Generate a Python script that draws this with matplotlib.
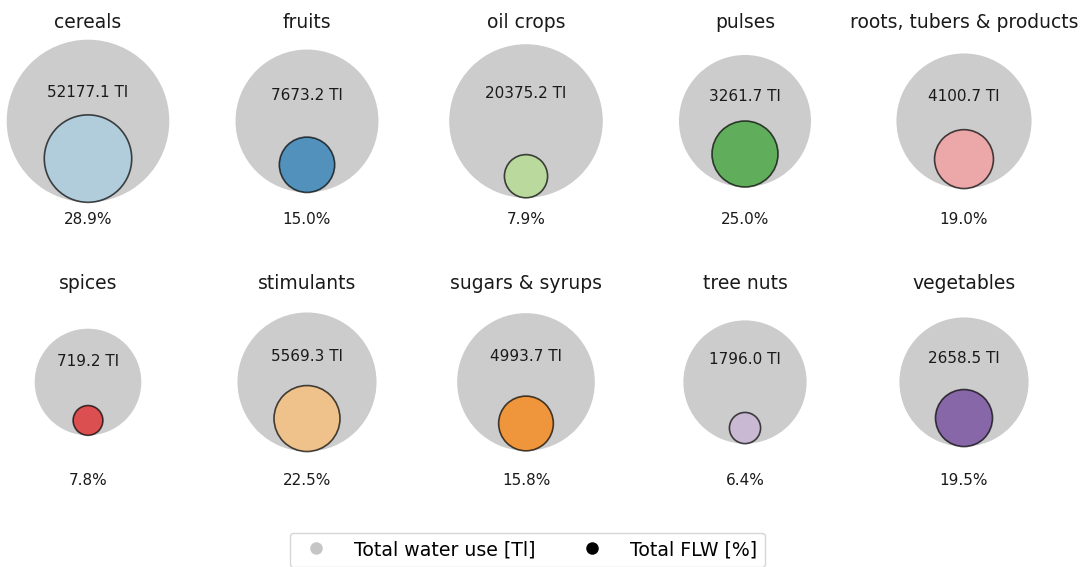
import numpy as np
import matplotlib
matplotlib.use("Agg")
import matplotlib.pyplot as plt
from matplotlib.patches import Circle
from matplotlib.lines import Line2D

categories = ['cereals', 'fruits', 'oil crops', 'pulses', 'roots, tubers & products',
              'spices', 'stimulants', 'sugars & syrups', 'tree nuts', 'vegetables']
water_use = [52177.1, 7673.2, 20375.2, 3261.7, 4100.7, 719.2, 5569.3, 4993.7, 1796.0, 2658.5]
flw_pct = [28.9, 15.0, 7.9, 25.0, 19.0, 7.8, 22.5, 15.8, 6.4, 19.5]

W, H = 1088, 567
fig = plt.figure(figsize=(W / 100, H / 100), dpi=100)
colors = plt.get_cmap('Paired').colors


def radius_px(v):
    # compressed size scale for the total water use bubble
    return 44.84 * np.cbrt(np.log(v / 134.0))


for i, (cat, wu, pct) in enumerate(zip(categories, water_use, flw_pct)):
    row, col = divmod(i, 5)
    cx = 88 + 219 * col
    cy = 121 + 261 * row
    ax = fig.add_axes([(cx - 88) / W, (H - cy - 100) / H, 176 / W, 200 / H])
    ax.set_xlim(-88, 88)
    ax.set_ylim(-100, 100)
    ax.axis('off')

    R = radius_px(wu)
    r = R * np.sqrt(pct / 100)
    ax.add_patch(Circle((0, 0), R, facecolor='grey', edgecolor='none', alpha=0.4))
    ax.add_patch(Circle((0, -(R - r)), r, facecolor=colors[i], edgecolor='black',
                        linewidth=1.2, alpha=0.7))

    ax.text(0, 93, cat, ha='center', va='baseline', fontsize=13.5, color='#1a1a1a')
    ax.text(0, 0.30 * R, f"{wu:.1f} Tl", ha='center', va='baseline', fontsize=11,
            color='#1a1a1a')
    ax.text(0, -103, f"{pct:.1f}%", ha='center', va='baseline', fontsize=11,
            color='#1a1a1a')

handles = [
    Line2D([], [], marker='o', linestyle='none', color='grey', alpha=0.45,
           markersize=9, markeredgewidth=0),
    Line2D([], [], marker='o', linestyle='none', color='black', markersize=9,
           markeredgewidth=0),
]
fig.legend(handles, ['Total water use [Tl]', 'Total FLW [%]'], loc='lower center',
           bbox_to_anchor=(0.4845, -0.016), ncol=2, fontsize=13.6, columnspacing=2.0,
           handletextpad=1.0)

fig.savefig('out.png', dpi=100)
